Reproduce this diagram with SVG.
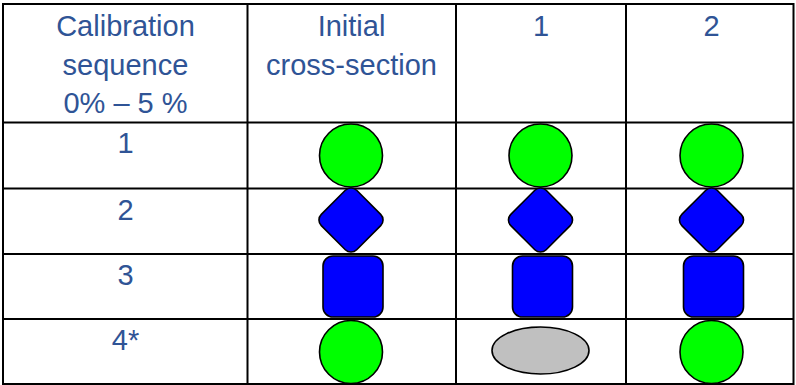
<svg xmlns="http://www.w3.org/2000/svg" width="796" height="385" viewBox="0 0 796 385">
  <defs>
    <style>
      .grid { stroke: #000; stroke-width: 2; fill: none; }
      .txt { font-family: "Liberation Sans", Arial, sans-serif; font-size: 29px; fill: #2F5496; text-anchor: middle; }
      .green { fill: #00FF00; stroke: #000; stroke-width: 1.6; }
      .blue { fill: #0000FF; stroke: #000; stroke-width: 1.6; }
      .grey { fill: #C0C0C0; stroke: #000; stroke-width: 1.6; }
    </style>
    <circle id="circ" r="31.5" class="green"/>
    <rect id="dia" x="-25" y="-25" width="50" height="50" rx="8" class="blue" transform="rotate(45)"/>
    <rect id="sq" x="-30" y="-30.5" width="60" height="61" rx="10" class="blue"/>
  </defs>
  <rect width="796" height="385" fill="#fff"/>

  <g id="table-grid">
    <rect x="3" y="4" width="790.5" height="380" class="grid"/>
    <line x1="3" y1="122.5" x2="793.5" y2="122.5" class="grid"/>
    <line x1="3" y1="188.5" x2="793.5" y2="188.5" class="grid"/>
    <line x1="3" y1="254" x2="793.5" y2="254" class="grid"/>
    <line x1="3" y1="319" x2="793.5" y2="319" class="grid"/>
    <line x1="247.5" y1="4" x2="247.5" y2="384" class="grid"/>
    <line x1="456" y1="4" x2="456" y2="384" class="grid"/>
    <line x1="626" y1="4" x2="626" y2="384" class="grid"/>
  </g>

  <g id="header">
    <text class="txt" x="125.5" y="36">Calibration</text>
    <text class="txt" x="125.5" y="74.5">sequence</text>
    <text class="txt" x="125.5" y="113">0% – 5 %</text>
    <text class="txt" x="351.5" y="36">Initial</text>
    <text class="txt" x="351.5" y="74.5">cross-section</text>
    <text class="txt" x="541" y="36">1</text>
    <text class="txt" x="711.5" y="36">2</text>
  </g>

  <g id="row-labels">
    <text class="txt" x="125.5" y="153">1</text>
    <text class="txt" x="125.5" y="220">2</text>
    <text class="txt" x="125.5" y="285">3</text>
    <text class="txt" x="125.5" y="350">4*</text>
  </g>

  <g id="col-initial">
    <use href="#circ" x="351" y="155.5"/>
    <use href="#dia" x="351" y="220"/>
    <use href="#sq" x="353" y="286.5"/>
    <use href="#circ" x="351" y="352"/>
  </g>

  <g id="col-1">
    <use href="#circ" x="540.5" y="155.5"/>
    <use href="#dia" x="540.5" y="220"/>
    <use href="#sq" x="542.5" y="286.5"/>
    <ellipse cx="540.5" cy="350.5" rx="48.5" ry="23.5" class="grey"/>
  </g>

  <g id="col-2">
    <use href="#circ" x="711.5" y="155.5"/>
    <use href="#dia" x="711.5" y="220"/>
    <use href="#sq" x="713.5" y="286.5"/>
    <use href="#circ" x="711.5" y="352"/>
  </g>
</svg>
